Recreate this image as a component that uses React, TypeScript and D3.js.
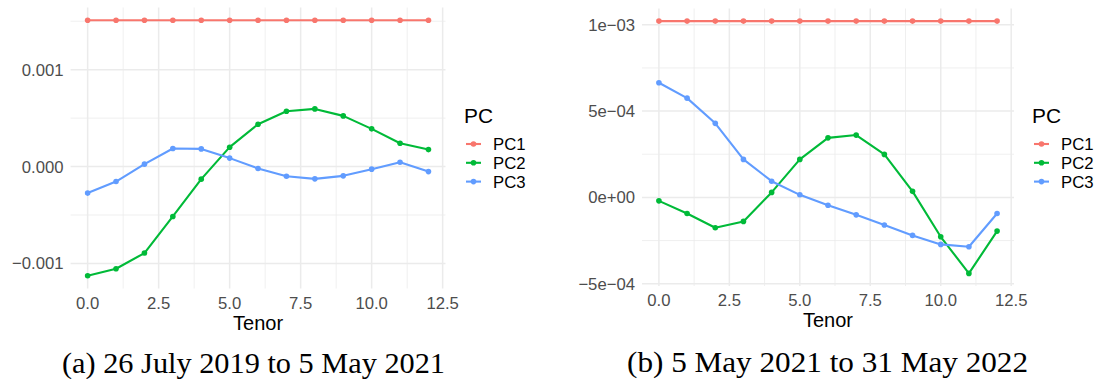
import React from 'react';
import * as d3 from 'd3';

const tenors = [0, 1, 2, 3, 4, 5, 6, 7, 8, 9, 10, 11, 12];
const seriesNames = ['PC1', 'PC2', 'PC3'];
const seriesColors = ['#F8766D', '#00BA38', '#619CFF'];

// Panel (a): 26 July 2019 to 5 May 2021
const pc1A = [0.00151, 0.00151, 0.00151, 0.00151, 0.00151, 0.00151, 0.00151, 0.00151, 0.00151, 0.00151, 0.00151, 0.00151, 0.00151];
const pc2A = [-0.001127, -0.001055, -0.000893, -0.000515, -0.00013, 0.0002, 0.000437, 0.000571, 0.000595, 0.000523, 0.000389, 0.000241, 0.000175];
const pc3A = [-0.000274, -0.000155, 0.000025, 0.000186, 0.000182, 0.000087, -0.00002, -0.0001, -0.000127, -0.000096, -0.000027, 0.000045, -0.000052];

// Panel (b): 5 May 2021 to 31 May 2022
const pc1B = [0.001021, 0.001021, 0.001021, 0.001021, 0.001021, 0.001021, 0.001021, 0.001021, 0.001021, 0.001021, 0.001021, 0.001021, 0.001021];
const pc2B = [-0.00002, -0.000093, -0.000176, -0.000139, 0.000029, 0.00022, 0.000345, 0.000361, 0.000249, 0.000035, -0.000228, -0.00044, -0.000195];
const pc3B = [0.000664, 0.000575, 0.000429, 0.00022, 0.000094, 0.000015, -0.000045, -0.000101, -0.00016, -0.00022, -0.000272, -0.000286, -0.000093];

const xTicks = [0, 2.5, 5, 7.5, 10, 12.5];
const xTickLabels = ['0.0', '2.5', '5.0', '7.5', '10.0', '12.5'];
const xMinor = [1.25, 3.75, 6.25, 8.75, 11.25];

const yTicksA = [-0.001, 0, 0.001];
const yTickLabelsA = ['\u22120.001', '0.000', '0.001'];
const yMinorA = [-0.0005, 0.0005, 0.0015];

const yTicksB = [-0.0005, 0, 0.0005, 0.001];
const yTickLabelsB = ['\u22125e\u221204', '0e+00', '5e\u221204', '1e\u221203'];
const yMinorB = [-0.00025, 0.00025, 0.00075];

const captionA = '(a) 26 July 2019 to 5 May 2021';
const captionB = '(b) 5 May 2021 to 31 May 2022';

const SANS = '"Liberation Sans", Arial, Helvetica, sans-serif';
const SERIF = '"Liberation Serif", "Times New Roman", serif';

type PanelProps = {
  left: number;
  right: number;
  top: number;
  bottom: number;
  series: number[][];
  yTicks: number[];
  yTickLabels: string[];
  yMinor: number[];
  legendX: number;
};

function Panel({ left, right, top, bottom, series, yTicks, yTickLabels, yMinor, legendX }: PanelProps) {
  const xExt = d3.extent(tenors) as [number, number];
  const xPad = (xExt[1] - xExt[0]) * 0.05;
  const x = d3.scaleLinear().domain([xExt[0] - xPad, xExt[1] + xPad]).range([left, right]);
  const all = series.flat();
  const yExt = d3.extent(all) as [number, number];
  const yPad = (yExt[1] - yExt[0]) * 0.05;
  const y = d3.scaleLinear().domain([yExt[0] - yPad, yExt[1] + yPad]).range([bottom, top]);
  const line = d3.line<number>().x((_, i) => x(tenors[i])).y((d) => y(d));
  const [y0, y1] = y.domain();
  const inY = (v: number) => v >= y0 && v <= y1;
  const gridColor = '#ebebeb';
  return (
    <g>
      {yMinor.filter(inY).map((v) => (
        <line key={'ym' + v} x1={left} x2={right} y1={y(v)} y2={y(v)} stroke={gridColor} strokeWidth={0.8} />
      ))}
      {xMinor.map((v) => (
        <line key={'xm' + v} x1={x(v)} x2={x(v)} y1={top} y2={bottom} stroke={gridColor} strokeWidth={0.8} />
      ))}
      {yTicks.map((v) => (
        <line key={'y' + v} x1={left} x2={right} y1={y(v)} y2={y(v)} stroke={gridColor} strokeWidth={1.5} />
      ))}
      {xTicks.map((v) => (
        <line key={'x' + v} x1={x(v)} x2={x(v)} y1={top} y2={bottom} stroke={gridColor} strokeWidth={1.5} />
      ))}
      {yTicks.map((v, i) => (
        <text key={'yl' + v} x={left - 7} y={y(v)} dy="0.36em" textAnchor="end" fontFamily={SANS} fontSize={16.7} fill="#4d4d4d">
          {yTickLabels[i]}
        </text>
      ))}
      {xTicks.map((v, i) => (
        <text key={'xl' + v} x={x(v)} y={bottom + 20} textAnchor="middle" fontFamily={SANS} fontSize={16.7} fill="#4d4d4d">
          {xTickLabels[i]}
        </text>
      ))}
      <text x={(left + right) / 2} y={bottom + 41} textAnchor="middle" fontFamily={SANS} fontSize={20} fill="#000">
        Tenor
      </text>
      {series.map((s, k) => (
        <path key={'l' + k} d={line(s) || ''} fill="none" stroke={seriesColors[k]} strokeWidth={2.1} strokeLinejoin="round" />
      ))}
      {series.map((s, k) =>
        s.map((d, i) => <circle key={'p' + k + '-' + i} cx={x(tenors[i])} cy={y(d)} r={2.8} fill={seriesColors[k]} />)
      )}
      <g>
        <text x={legendX} y={123} fontFamily={SANS} fontSize={20.9} fill="#000">
          PC
        </text>
        {seriesNames.map((name, k) => {
          const cy = 144 + k * 18.8;
          return (
            <g key={name}>
              <line x1={legendX + 2} x2={legendX + 17} y1={cy} y2={cy} stroke={seriesColors[k]} strokeWidth={2.1} />
              <circle cx={legendX + 9.5} cy={cy} r={2.8} fill={seriesColors[k]} />
              <text x={legendX + 29} y={cy} dy="0.36em" fontFamily={SANS} fontSize={16.7} fill="#000">
                {name}
              </text>
            </g>
          );
        })}
      </g>
    </g>
  );
}

export default function App() {
  return (
    <svg
      width={1095}
      height={379}
      viewBox="0 0 1095 379"
      style={{ position: 'absolute', left: 0, top: 0, background: '#fff' }}
    >
      <rect x={0} y={0} width={1095} height={379} fill="#fff" />
      <Panel
        left={70.6}
        right={445.5}
        top={7.5}
        bottom={288.5}
        series={[pc1A, pc2A, pc3A]}
        yTicks={yTicksA}
        yTickLabels={yTickLabelsA}
        yMinor={yMinorA}
        legendX={464}
      />
      <Panel
        left={642}
        right={1014}
        top={8.5}
        bottom={286}
        series={[pc1B, pc2B, pc3B]}
        yTicks={yTicksB}
        yTickLabels={yTickLabelsB}
        yMinor={yMinorB}
        legendX={1032}
      />
      <text x={62} y={372.5} fontFamily={SERIF} fontSize={30} fill="#000" textLength={383} lengthAdjust="spacingAndGlyphs">
        {captionA}
      </text>
      <text x={627} y={371.5} fontFamily={SERIF} fontSize={30} fill="#000" textLength={401} lengthAdjust="spacingAndGlyphs">
        {captionB}
      </text>
    </svg>
  );
}
